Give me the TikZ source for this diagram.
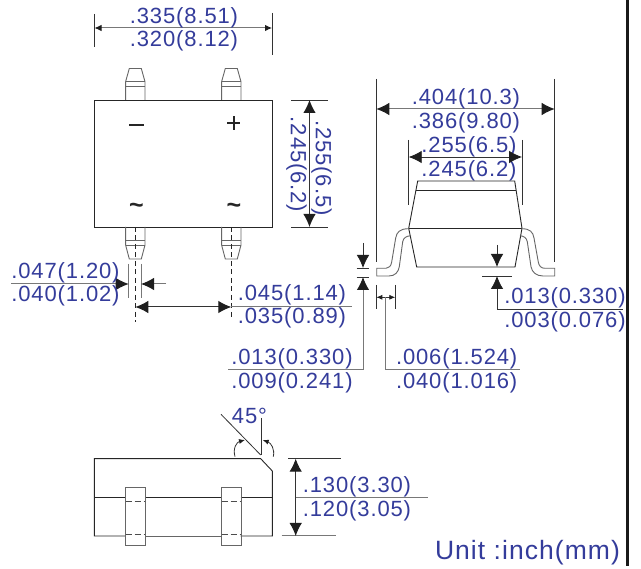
\documentclass[tikz,border=0pt]{standalone}
\usepackage{fontspec}
\setmainfont[LetterSpace=4]{Liberation Sans}
\usetikzlibrary{arrows.meta}
\definecolor{dimblue}{RGB}{52,60,155}
\definecolor{dimgray}{RGB}{120,120,120}
\definecolor{tipblack}{RGB}{30,30,30}
\tikzset{
  dimtext/.style={text=dimblue,font=\fontsize{22}{22}\selectfont,inner sep=0pt,anchor=center,yshift=-1pt},
  unittext/.style={text=dimblue,font=\fontsize{26.5}{26}\selectfont,inner sep=0pt,anchor=center},
  marktext/.style={text=black!85,font=\fontsize{25}{25}\selectfont\bfseries,inner sep=0pt,anchor=center},
  outline/.style={draw=black!85,line width=0.9pt},
  pinline/.style={draw=black!60,line width=0.9pt},
  thinl/.style={draw=black!80,line width=0.8pt},
  grayl/.style={draw=dimgray,line width=1pt},
  dashl/.style={draw=black!85,line width=0.8pt,dash pattern=on 5pt off 3.5pt},
  bigtip/.style={{Latex[length=13pt,width=12.5pt,tipblack]}-{Latex[length=13pt,width=12.5pt,tipblack]}},
  bigend/.style={-{Latex[length=13pt,width=12.5pt,tipblack]}},
  midtip/.style={{Latex[length=7pt,width=6.5pt,tipblack]}-{Latex[length=7pt,width=6.5pt,tipblack]}},
  smalltip/.style={-{Latex[length=6pt,width=5pt,tipblack]}},
}
\begin{document}
\begin{tikzpicture}[x=1pt,y=-1pt]
\useasboundingbox (0,0) rectangle (641,569);
\fill[white] (0,0) rectangle (641,569);
% frame rule
\draw[black!90,line width=3pt] (627.5,0) -- (627.5,566);

% ===== top view =====
\draw[outline] (94.5,100) rectangle (272,227);
\foreach \x/\n in {135.3/a,231.3/b}{
  \draw[pinline] (\x-9.7,100) -- (\x-9.7,81.7) -- (\x-6,68.5) -- (\x+6,68.5) -- (\x+9.7,81.7) -- (\x+9.7,100);
  \draw[pinline] (\x-9.7,81.7) -- (\x+9.7,81.7) (\x-9.7,86.7) -- (\x+9.7,86.7);
  \draw[pinline] (\x-9.7,227) -- (\x-9.7,245) -- (\x-6,259) -- (\x+6,259) -- (\x+9.7,245) -- (\x+9.7,227);
  \draw[pinline] (\x-9.7,240) -- (\x+9.7,240) (\x-9.7,245) -- (\x+9.7,245);
}
\draw[dashl] (135.3,227) -- (135.3,322);
\draw[dashl] (231.3,227) -- (231.3,317);
\draw[line width=1.7pt,black!85] (129,125) -- (144,125);
\draw[line width=2pt,black!85] (227,123.3) -- (240,123.3) (233.5,116.5) -- (233.5,130);
\node[marktext] (tl) at (136.5,208.5) {\char"007E};
\node[marktext] (tr) at (234,208.5) {\char"007E};

% top width
\draw[thinl] (94.5,14) -- (94.5,47);
\draw[thinl] (272,13) -- (272,55);
\draw[grayl,midtip] (94.5,28) -- (272,28);
\node[dimtext] (t1) at (184,16.5) {.335(8.51)};
\node[dimtext] (t2) at (184,40) {.320(8.12)};

% right height
\draw[thinl] (291,100) -- (328,100);
\draw[thinl] (291,227) -- (328,227);
\draw[thinl,line width=1pt,bigtip] (309.5,100) -- (309.5,227);
\node[dimtext,rotate=-90] (t3) at (321.5,167) {.255(6.5)};
\node[dimtext,rotate=-90] (t4) at (296.5,163.5) {.245(6.2)};

% pin width
\draw[grayl] (128.7,264) -- (128.7,298);
\draw[grayl] (141,264) -- (141,298);
\draw[grayl,bigend] (11,284) -- (128.7,284);
\draw[grayl,bigend] (166,284) -- (141,284);
\node[dimtext] (t5) at (65.5,272) {.047(1.20)};
\node[dimtext] (t6) at (65.5,295) {.040(1.02)};

% pin spacing
\draw[thinl,line width=1pt,bigtip] (135.3,307) -- (231.3,307);
\draw[grayl] (231.3,307) -- (352,307);
\node[dimtext] (t7) at (292,293.5) {.045(1.14)};
\node[dimtext] (t8) at (292,317) {.035(0.89)};

% ===== side view =====
\draw[thinl] (376.3,79) -- (376.3,262);
\draw[thinl] (554.7,79) -- (554.7,262);
\draw[grayl,bigtip] (376.3,109) -- (554.7,109);
\node[dimtext] (t9) at (466,98) {.404(10.3)};
\node[dimtext] (t10) at (466,122) {.386(9.80)};

\draw[thinl] (408.7,140) -- (408.7,205);
\draw[thinl] (522,140) -- (522,205);
\node[dimtext] (t11) at (469,146) {.255(6.5)};
\node[dimtext] (t12) at (469,170) {.245(6.2)};
\draw[thinl,bigtip] (408.7,157) -- (522,157);

\draw[outline] (408.7,228.3) -- (417.7,181) -- (514.7,181) -- (522,228.3) -- (515,267) -- (416.7,267) -- cycle;
\draw[outline] (416.3,190.3) -- (516,190.3);
\draw[outline] (408.7,228.3) -- (522,228.3);
% left lead
\draw[pinline] (408.7,228.7) .. controls (400,228.7) and (396.7,232) .. (395.7,238)
  -- (391.7,262) .. controls (391,266) and (389,268.3) .. (386,268.3) -- (376.7,268.3) -- (376.7,276) -- (389,276)
  .. controls (395,276) and (398.5,272) .. (399.3,266.7) -- (402.7,241.7) .. controls (403.5,238) and (406,236) .. (411,235.7);
% right lead
\draw[pinline] (521.7,228.7) .. controls (530,228.7) and (533,232) .. (534,238)
  -- (538.3,262) .. controls (539,266) and (541,268.3) .. (545,268.3) -- (554.7,268.3) -- (554.7,276) -- (543,276)
  .. controls (536,276) and (532,272) .. (531,266.7) -- (527.3,241.7) .. controls (526.5,238) and (524,236) .. (520,235.7);

% lead thickness
\draw[thinl] (356.7,268) -- (369,268) (356.7,277) -- (369,277);
\draw[thinl,bigend] (363,243) -- (363,268);
\draw[grayl,bigend] (363,370) -- (363,277);
\draw[grayl] (228,370) -- (363,370);
\node[dimtext] (t13) at (292,358) {.013(0.330)};
\node[dimtext] (t14) at (292,382) {.009(0.241)};

% standoff
\draw[thinl] (482,276) -- (512,276);
\draw[thinl,bigend] (497,245) -- (497,267);
\draw[thinl,bigend] (497,309) -- (497,276);
\draw[thinl] (497,309) -- (622.7,309);
\node[dimtext] (t15) at (565,297) {.013(0.330)};
\node[dimtext] (t16) at (565,321) {.003(0.076)};

% foot length
\draw[thinl] (376.3,285) -- (376.3,309);
\draw[thinl] (395.3,285) -- (395.3,309);
\draw[thinl,smalltip] (385.7,297.3) -- (376.3,297.3);
\draw[thinl,smalltip] (385.7,297.3) -- (395.3,297.3);
\draw[grayl] (385.7,297.3) -- (385.7,370) -- (520,370);
\node[dimtext] (t17) at (456.7,358) {.006(1.524)};
\node[dimtext] (t18) at (456.7,382) {.040(1.016)};

% ===== bottom view =====
\draw[outline] (125.7,536) -- (94.3,536) -- (94.3,458.7) -- (260.7,458.7) -- (272.3,471) -- (272.3,536) -- (240.7,536);
\draw[pinline] (145.4,536) -- (221.7,536);
\draw[outline] (94.3,497.3) -- (125.7,497.3) (145.4,497.3) -- (221.7,497.3) (240.7,497.3) -- (272.3,497.3);
\foreach \x in {125.7,221.7}{
  \draw[pinline] (\x,487.7) rectangle (\x+19.3,545);
  \draw[black!70,line width=0.8pt,dash pattern=on 6pt off 3pt] (\x,501) -- (\x+19.3,501);
  \draw[black!70,line width=0.8pt,dash pattern=on 6pt off 3pt] (\x,534.3) -- (\x+19.3,534.3);
}
% 45 degree mark
\draw[thinl] (221,414.3) -- (260.7,455);
\draw[thinl] (261,418) -- (261,455);
\draw[thinl,smalltip] (235,456.7) .. controls (232.5,448) and (237,442) .. (245,440);
\draw[thinl,smalltip] (273.3,456.7) .. controls (275,449) and (271,443) .. (262.7,440);
\node[dimtext] (t19) at (249.5,415) {45°};

% height
\draw[thinl] (288,458.7) -- (340.7,458.7);
\draw[grayl] (281.7,536) -- (335.7,536);
\draw[thinl,line width=1pt,bigtip] (295.7,458.7) -- (295.7,536);
\draw[grayl] (295.7,497.3) -- (428,497.3);
\node[dimtext] (t20) at (357,486) {.130(3.30)};
\node[dimtext] (t21) at (357,509.5) {.120(3.05)};

\node[unittext] (t22) at (527.5,553) {Unit :inch(mm)};
\end{tikzpicture}
\end{document}
